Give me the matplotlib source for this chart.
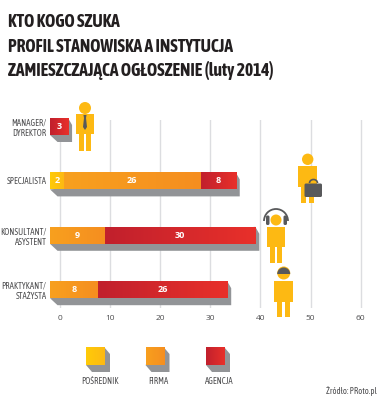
#job profile vs. institution type, stacked bars with people icons

import numpy as np
import matplotlib
matplotlib.use('Agg')
import matplotlib.pyplot as plt
from matplotlib.colors import LinearSegmentedColormap
from matplotlib.patches import Circle, Rectangle, Polygon, Arc, Wedge, FancyBboxPatch

categories = ['MANAGER/\nDYREKTOR', 'SPECJALISTA', 'KONSULTANT/\nASYSTENT', 'PRAKTYKANT/\nSTAŻYSTA']
#segment lengths as they sit on the axis
posrednik = [0, 2.7, 0, 0]
firma = [0, 27.3, 11, 9.6]
agencja = [3.6, 7, 29.9, 25.7]
#numbers printed on the segments
posrednik_lab = ['', '2', '', '']
firma_lab = ['', '26', '9', '8']
agencja_lab = ['3', '8', '30', '26']
xticks = [0, 10, 20, 30, 40, 50, 60]
legend_names = ['POŚREDNIK', 'FIRMA', 'AGENCJA']
title_lines = ['KTO KOGO SZUKA', 'PROFIL STANOWISKA A INSTYTUCJA', 'ZAMIESZCZAJĄCA OGŁOSZENIE (luty 2014)']

W, H = 385, 400
TXT = '#4d4d4f'
GRAY = '#929497'
DARK = '#58595b'
BODY = '#fdb913'
LEFT = -1.9
NARROW = ['Asap Condensed', 'Liberation Sans Narrow', 'DejaVu Sans']
cm_yellow = LinearSegmentedColormap.from_list('y', ['#ffcb08', '#fdb913'])
cm_orange = LinearSegmentedColormap.from_list('o', ['#f8a01e', '#f58e20'])
cm_red = LinearSegmentedColormap.from_list('r', ['#c1202d', '#e8302a'])
grad = np.linspace(0, 1, 64).reshape(1, -1)

plt.rcParams['font.family'] = ['Open Sans', 'DejaVu Sans']
fig = plt.figure(figsize=(W / 100, H / 100), dpi=100, facecolor='white')

#chart axes, pixel box x 50-375, y 120-308
ax = fig.add_axes([50 / W, 1 - 308 / H, 325 / W, 188 / H])
x0 = LEFT
x1 = x0 + 325 / 5.02
uy = 54.4
y_top = -(126.5 - 120) / uy
y_bot = (308 - 126.5) / uy
dx = 4 / 5.02
dy = 7 / uy
bar_h = 17 / uy

ax.set_axisbelow(True)
ax.grid(axis='x', color='#dcdde0', lw=1)
for s in ax.spines.values():
	s.set_visible(False)

#bars
for i in range(len(categories)):
	left = LEFT
	top = i - bar_h / 2
	bot = i + bar_h / 2
	total = posrednik[i] + firma[i] + agencja[i]
	right = left + total
	#gray extrusion
	ax.add_patch(Polygon([(left, bot), (left + 1.5, bot + dy), (right + dx, bot + dy),
		(right + dx, top + dy), (right, top)], closed=True, fc=GRAY, ec='none', zorder=2, clip_on=False))
	segs = [(posrednik[i], cm_yellow, posrednik_lab[i]), (firma[i], cm_orange, firma_lab[i]),
		(agencja[i], cm_red, agencja_lab[i])]
	for w, cm, lab in segs:
		if w == 0:
			continue
		ax.imshow(grad, cmap=cm, extent=(left, left + w, bot, top), aspect='auto', zorder=3, clip_on=False)
		ax.text(left + w / 2, i, lab, color='white', fontsize=6.5, fontweight='bold',
			ha='center', va='center', zorder=4)
		left += w

ax.set_xlim(x0, x1)
ax.set_ylim(y_bot, y_top)
ax.set_xticks(xticks)
ax.set_yticks(range(len(categories)))
ax.set_yticklabels(categories, fontsize=6.2, color=TXT, linespacing=1.2, ha='right', family=NARROW)
ax.tick_params(axis='y', length=0, pad=2.5)
ax.tick_params(axis='x', length=0, pad=5, labelsize=6, labelcolor=TXT)
ax.patch.set_alpha(0)

#overlay in pixels for icons, legend, title
deco = fig.add_axes([0, 0, 1, 1], facecolor='none')
deco.set_xlim(0, W)
deco.set_ylim(H, 0)
deco.axis('off')

def person(cx, head_y, r, body, legs_end):
	deco.add_patch(Circle((cx, head_y), r, fc=BODY, ec='none', zorder=5))
	bx0, bx1, by0, by1 = body
	deco.add_patch(Rectangle((bx0, by0), bx1 - bx0, by1 - by0, fc=BODY, ec='none', zorder=5))
	deco.add_patch(Rectangle((bx0 + 3, by1 - 1), 4.8, legs_end - by1 + 1, fc=BODY, ec='none', zorder=5))
	deco.add_patch(Rectangle((bx1 - 7.8, by1 - 1), 4.8, legs_end - by1 + 1, fc=BODY, ec='none', zorder=5))

#manager with tie
person(85, 108, 6, (76, 94, 114, 134), 150.5)
deco.add_patch(Polygon([(83.5, 115), (86.5, 115), (86, 118), (87, 127), (85, 130), (83, 127), (84, 118)],
	closed=True, fc=DARK, ec='none', zorder=6))
#specialist with case
person(307.7, 159.3, 5.7, (298, 317, 166, 187), 203)
deco.add_patch(Arc((313.5, 183), 8, 7, theta1=180, theta2=360, color=DARK, lw=1.2, zorder=6))
deco.add_patch(FancyBboxPatch((304.5, 183.5), 17.5, 13.5, boxstyle='round,pad=0,rounding_size=1.5',
	fc=DARK, ec='none', zorder=6))
#consultant with headphones
person(276, 220, 5.5, (266.7, 285, 227, 247), 263)
deco.add_patch(Arc((276, 221), 24, 24, theta1=180, theta2=360, color=DARK, lw=1.3, zorder=6))
for ex in (266, 283.5):
	deco.add_patch(FancyBboxPatch((ex, 215.5), 3.5, 9.5, boxstyle='round,pad=0,rounding_size=1.5',
		fc=DARK, ec='none', zorder=6))
#intern with cap
person(283.7, 273, 6.5, (274, 293, 281, 302), 317)
deco.add_patch(Wedge((283.7, 274), 6.5, 180, 360, fc=DARK, ec='none', zorder=6))

#legend
leg_x = [86, 145.5, 206]
leg_text = [100, 158, 219.5]
cms = [cm_yellow, cm_orange, cm_red]
for name, lx, tx, cm in zip(legend_names, leg_x, leg_text, cms):
	deco.add_patch(Polygon([(lx, 365), (lx + 6, 372), (lx + 24, 372), (lx + 24, 354), (lx + 18.5, 347.5)],
		closed=True, fc=GRAY, ec='none', zorder=2))
	deco.imshow(grad, cmap=cm, extent=(lx, lx + 18.5, 365, 347.5), aspect='auto', zorder=3)
	deco.text(tx, 384, name, fontsize=6.2, color=TXT, ha='center', va='baseline', family=NARROW)
deco.set_xlim(0, W)
deco.set_ylim(H, 0)

#title, sized so the long line spans the same width whatever narrow font was found
title_txt = []
for line, ty in zip(title_lines, [27, 52, 76]):
	title_txt.append(deco.text(8, ty, line, fontsize=14, fontweight='bold', color='#231f20', ha='left',
		va='baseline', family=NARROW))
rend = fig.canvas.get_renderer()
longest = title_txt[2].get_window_extent(rend).width
for t in title_txt:
	t.set_fontsize(14 * 267 / longest)
deco.text(377, 394.5, 'Źródło: PRoto.pl', fontsize=6.2, color=TXT, ha='right', va='baseline', family=NARROW)

fig.savefig('out.png', dpi=100)
